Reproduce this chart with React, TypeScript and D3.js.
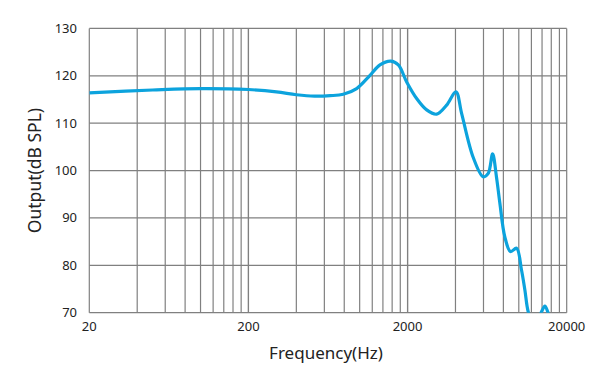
import React from 'react';
import * as d3 from 'd3';

// frequency response
const freqs = [20, 50, 100, 200, 300, 400, 520, 652, 789, 957, 1161, 1342, 1566, 1750, 1974, 2281, 2637, 3048, 3520, 4026, 4375, 5166, 5970, 6425, 6845, 7250, 7605, 8170, 8870, 9680, 10400, 10920, 11460, 12620, 13900, 14580, 15280, 16830];
const levels = [116.4, 117.0, 117.3, 117.1, 116.6, 116.0, 115.7, 115.8, 116.1, 117.3, 120.1, 122.3, 123.1, 122.3, 118.7, 115.2, 112.8, 111.9, 113.8, 116.6, 112.0, 102.8, 98.7, 99.4, 103.5, 98.5, 93.1, 86.0, 82.9, 83.6, 79.0, 74.8, 70.2, 66.5, 70.2, 71.4, 70.0, 66.0];

const xTickLabels = [20, 200, 2000, 20000];
const yTicks = [70, 80, 90, 100, 110, 120, 130];

const width = 601;
const height = 385;
const left = 89.3, right = 566.7, top = 28.4, bottom = 312.7;

export default function App() {
  const x = d3.scaleLog().domain([20, 20000]).range([left, right]);
  const y = d3.scaleLinear().domain([70, 130]).range([bottom, top]);

  // grid: multiples of 20, 200, 2000 in each decade
  const gridX: number[] = [];
  [20, 200, 2000].forEach(base => {
    for (let k = 1; k <= 10; k++) gridX.push(base * k);
  });

  const data = freqs.map((f, i) => [f, levels[i]] as [number, number]);
  const line = d3.line<[number, number]>()
    .x(d => x(d[0]))
    .y(d => y(d[1]))
    .curve(d3.curveCatmullRom.alpha(0.5));

  const font = "'Noto Sans', 'Open Sans', sans-serif";

  return (
    <svg width={width} height={height} style={{ position: 'absolute', left: 0, top: 0 }}>
      <rect width={width} height={height} fill="#fff" />
      <defs>
        <clipPath id="plot">
          <rect x={left} y={top} width={right - left} height={bottom - top} />
        </clipPath>
      </defs>
      {gridX.map((f, i) => (
        <line key={'gx' + i} x1={x(f)} x2={x(f)} y1={top} y2={bottom} stroke="#808080" strokeWidth={1.2} />
      ))}
      {yTicks.map(t => (
        <line key={'gy' + t} x1={left} x2={right} y1={y(t)} y2={y(t)} stroke="#808080" strokeWidth={1.2} />
      ))}
      <path d={line(data) || ''} fill="none" stroke="#0ca3dd" strokeWidth={3.2} clipPath="url(#plot)" strokeLinejoin="round" />
      {yTicks.map(t => (
        <text key={'yl' + t} x={77} y={y(t)} dy="0.35em" textAnchor="end" fontSize={13} fontFamily={font} fill="#222">{t}</text>
      ))}
      {xTickLabels.map(t => (
        <text key={'xl' + t} x={x(t)} y={331} textAnchor="middle" fontSize={13} fontFamily={font} fill="#222">{t}</text>
      ))}
      <text x={326} y={359} textAnchor="middle" fontSize={17} fontFamily={font} fill="#222">Frequency(Hz)</text>
      <text transform={`translate(41,${(top + bottom) / 2}) rotate(-90)`} textAnchor="middle" fontSize={17.5} fontFamily={font} fill="#222">Output(dB SPL)</text>
    </svg>
  );
}
